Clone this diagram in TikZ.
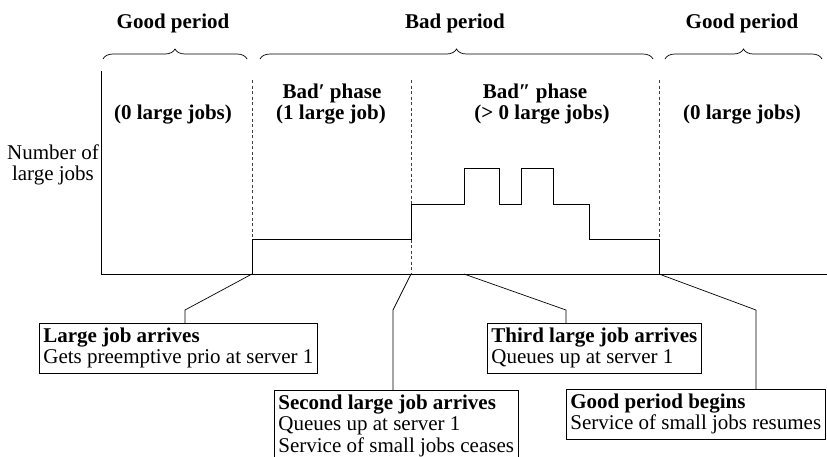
\documentclass[tikz,border=0pt]{standalone}
\usepackage{fontspec}
\setmainfont{Liberation Serif}
\usetikzlibrary{decorations.pathreplacing}
\begin{document}
\begin{tikzpicture}[x=1pt,y=-1pt,
  every node/.style={font=\fontsize{21}{21.5}\selectfont, inner sep=0pt},
  head/.style={font=\fontsize{21}{21.5}\selectfont\bfseries, anchor=base},
  plain/.style={anchor=base},
  callout/.style={draw, line width=0.8pt, align=left, anchor=north west, inner xsep=4pt, inner ysep=4.5pt},
  axisline/.style={line width=0.8pt},
  sep/.style={line width=0.7pt, dash pattern=on 3pt off 2.5pt, black!75},
  link/.style={line width=0.7pt},
  brc/.style={decorate, decoration={brace, amplitude=10pt}, line width=0.7pt}]
\useasboundingbox (0,0) rectangle (827,456);
% axes
\coordinate (top) at (101,71);
\coordinate (o) at (101,274);
\coordinate (xe) at (827,274);
\draw[axisline] (top) -- (o) -- (xe);
% phase separators
\coordinate (t1) at (252,274);
\coordinate (t2) at (411,274);
\coordinate (t3) at (464,274);
\coordinate (t4) at (659,274);
\draw[sep] (252,80) -- (t1);
\draw[sep] (411,80) -- (t2);
\draw[sep] (659,80) -- (t4);
% step function
\draw[link] (t1) -- (252,239) -- (411,239) -- (411,204) -- (464,204) -- (464,168) -- (499,168) -- (499,204) -- (521,204) -- (521,168) -- (553,168) -- (553,204) -- (589,204) -- (589,239) -- (659,239) -- (t4);
% braces
\draw[brc] (103,59) -- (247,59);
\draw[brc] (260,59) -- (653,59);
\draw[brc] (665,59) -- (822,59);
% headings
\node[head] (g1) at (173,28) {Good period};
\node[head] (bp) at (455,28) {Bad period};
\node[head] (g2) at (742,28) {Good period};
\node[head] (z1) at (173,119) {(0 large jobs)};
\node[head] (b1a) at (332,98) {Bad′ phase};
\node[head] (b1b) at (331,119) {(1 large job)};
\node[head] (b2a) at (535,98) {Bad″ phase};
\node[head] (b2b) at (542,119) {(\textgreater{} 0 large jobs)};
\node[head] (z2) at (742,119) {(0 large jobs)};
\node[plain] (ya) at (53,159) {Number of};
\node[plain] (yb) at (53,180) {large jobs};
% callouts
\node[callout] (c1) at (39,323) {\textbf{Large job arrives}\\Gets preemptive prio at server 1};
\node[callout] (c2) at (274,390) {\textbf{Second large job arrives}\\Queues up at server 1\\Service of small jobs ceases};
\node[callout] (c3) at (487,323) {\textbf{Third large job arrives}\\Queues up at server 1};
\node[callout] (c4) at (566,389) {\textbf{Good period begins}\\Service of small jobs resumes};
\coordinate (k1) at (185,310);
\coordinate (k2) at (393,310);
\coordinate (k3) at (566,310);
\coordinate (k4) at (756,310);
\draw[link] (t1) -- (k1) -- (k1 |- c1.north);
\draw[link] (t2) -- (k2) -- (k2 |- c2.north);
\draw[link] (t3) -- (k3) -- (k3 |- c3.north);
\draw[link] (t4) -- (k4) -- (k4 |- c4.north);
\end{tikzpicture}
\end{document}
